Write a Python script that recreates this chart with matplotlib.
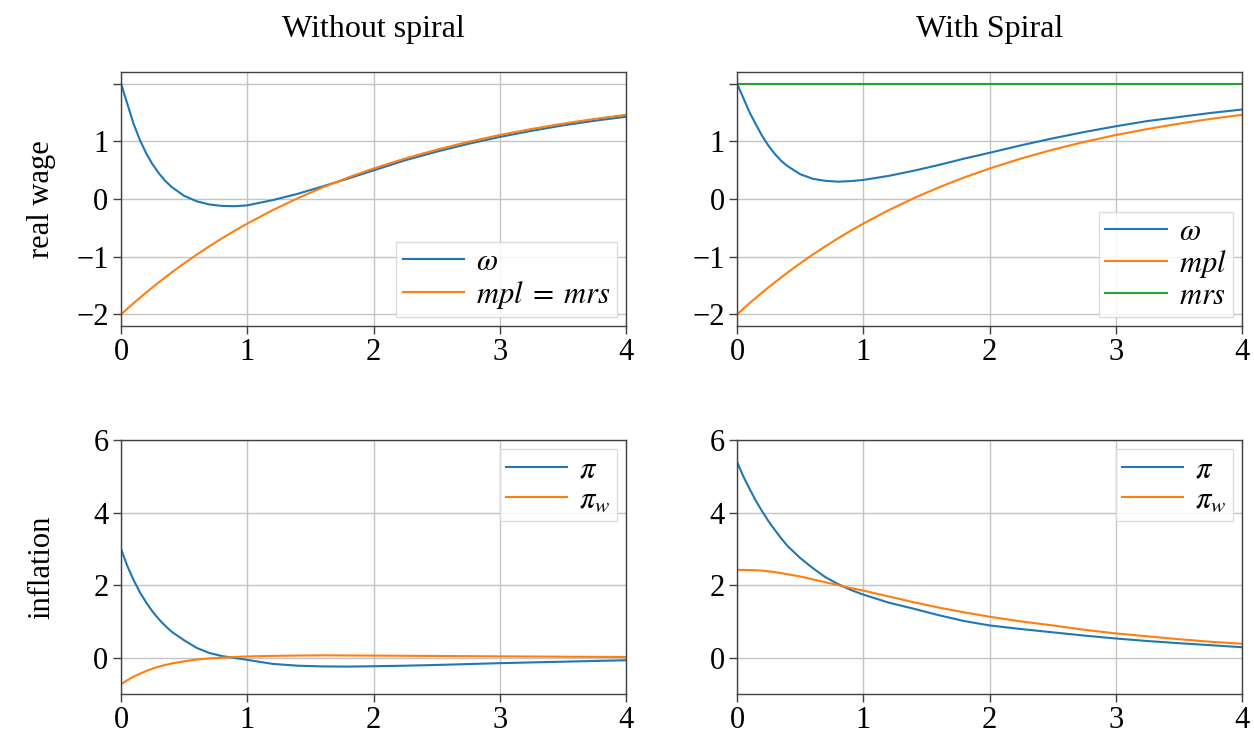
import matplotlib
matplotlib.use("Agg")
import matplotlib.pyplot as plt

plt.rcParams["font.family"] = ["Liberation Serif", "DejaVu Serif"]
plt.rcParams["mathtext.fontset"] = "stix"
plt.rcParams["font.size"] = 22
plt.rcParams["axes.unicode_minus"] = True

# time grid (denser near zero, where the curves bend most)
t = [0, 0.05, 0.1, 0.15, 0.2, 0.25, 0.3, 0.35, 0.4, 0.5, 0.6, 0.7, 0.8, 0.9,
     1.0, 1.2, 1.4, 1.6, 1.8, 2.0, 2.25, 2.5, 2.75, 3.0, 3.25, 3.5, 3.75, 4.0]

# real wage, without spiral
omega_ns = [2.0, 1.65, 1.30, 1.02, 0.79, 0.60, 0.445, 0.315, 0.21, 0.055,
            -0.04, -0.095, -0.12, -0.125, -0.11, -0.02, 0.09, 0.22, 0.355,
            0.495, 0.67, 0.82, 0.955, 1.075, 1.18, 1.275, 1.355, 1.425]
mpl = [-2.0, -1.901, -1.805, -1.711, -1.619, -1.530, -1.443, -1.358, -1.275,
       -1.115, -0.963, -0.819, -0.681, -0.550, -0.426, -0.195, 0.014, 0.203,
       0.374, 0.528, 0.701, 0.854, 0.989, 1.108, 1.212, 1.305, 1.387, 1.459]

# real wage, with spiral
omega_sp = [2.0, 1.75, 1.50, 1.29, 1.09, 0.92, 0.78, 0.66, 0.57, 0.43, 0.35,
            0.315, 0.30, 0.31, 0.33, 0.40, 0.49, 0.59, 0.70, 0.80, 0.93, 1.05,
            1.16, 1.26, 1.35, 1.42, 1.49, 1.55]
mrs_sp = [2.0] * len(t)

# inflation, without spiral
pi_ns = [3.0, 2.53, 2.14, 1.80, 1.52, 1.27, 1.06, 0.88, 0.72, 0.48, 0.27,
         0.13, 0.045, -0.005, -0.06, -0.17, -0.22, -0.24, -0.245, -0.235,
         -0.22, -0.20, -0.175, -0.15, -0.13, -0.11, -0.09, -0.07]
piw_ns = [-0.73, -0.62, -0.52, -0.44, -0.365, -0.30, -0.245, -0.20, -0.16,
          -0.10, -0.05, -0.02, 0.0, 0.02, 0.035, 0.05, 0.06, 0.065, 0.062,
          0.058, 0.053, 0.048, 0.043, 0.038, 0.033, 0.028, 0.024, 0.02]

# inflation, with spiral
pi_sp = [5.4, 5.0, 4.65, 4.32, 4.03, 3.76, 3.52, 3.29, 3.08, 2.75, 2.47,
         2.22, 2.03, 1.87, 1.74, 1.52, 1.35, 1.17, 1.01, 0.89, 0.79, 0.70,
         0.61, 0.53, 0.46, 0.40, 0.345, 0.29]
piw_sp = [2.42, 2.42, 2.415, 2.41, 2.40, 2.38, 2.36, 2.33, 2.30, 2.24, 2.16,
          2.08, 2.0, 1.92, 1.85, 1.69, 1.53, 1.38, 1.25, 1.13, 1.0, 0.89,
          0.77, 0.67, 0.59, 0.51, 0.44, 0.385]

blue, orange, green = "#1f77b4", "#ff7f0e", "#2ca02c"

fig = plt.figure(figsize=(12.54, 7.42), dpi=100)
W, H = 1254, 742
boxes = {
    "tl": (121, 72, 626, 326),
    "tr": (737, 72, 1242, 326),
    "bl": (121, 440, 626, 694),
    "br": (737, 440, 1242, 694),
}
axes = {}
for k, (x0, y0, x1, y1) in boxes.items():
    axes[k] = fig.add_axes([x0 / W, 1 - y1 / H, (x1 - x0) / W, (y1 - y0) / H])

legend_kw = dict(fontsize=22, handlelength=2.0, handletextpad=0.4,
                 borderpad=0.2, labelspacing=0.05, borderaxespad=0.3,
                 fancybox=False, edgecolor="#d8d8d8", framealpha=0.85)


def style(ax):
    ax.set_xlim(0, 4)
    ax.set_xticks([0, 1, 2, 3, 4])
    ax.grid(True, color="#c4c4c4", linewidth=1.0)
    ax.set_axisbelow(True)
    for s in ax.spines.values():
        s.set_color("#404040")
        s.set_linewidth(1.0)
    ax.tick_params(axis="both", direction="out", length=6, width=1.0,
                   color="#404040", labelsize=22, pad=3)


lw = 1.5
ax = axes["tl"]
ax.plot(t, omega_ns, color=blue, lw=lw, label=r"$\omega$")
ax.plot(t, mpl, color=orange, lw=lw, label=r"$mpl\;=\;mrs$")
ax.set_title("Without spiral", fontsize=23, pad=25)
ax.set_ylabel("real wage", fontsize=22)

ax = axes["tr"]
ax.plot(t, omega_sp, color=blue, lw=lw, label=r"$\omega$")
ax.plot(t, mpl, color=orange, lw=lw, label=r"$mpl$")
ax.plot(t, mrs_sp, color=green, lw=lw, label=r"$mrs$")
ax.set_title("With Spiral", fontsize=23, pad=25)

for k in ("tl", "tr"):
    ax = axes[k]
    ax.set_ylim(-2.2, 2.2)
    ax.set_yticks([-2, -1, 0, 1, 2])
    ax.set_yticklabels(["\u22122", "\u22121", "0", "1", ""])
    style(ax)
    ax.legend(loc="lower right", **legend_kw)

ax = axes["bl"]
ax.plot(t, pi_ns, color=blue, lw=lw, label=r"$\pi$")
ax.plot(t, piw_ns, color=orange, lw=lw, label=r"$\pi_w$")
ax.set_ylabel("inflation", fontsize=22)

ax = axes["br"]
ax.plot(t, pi_sp, color=blue, lw=lw, label=r"$\pi$")
ax.plot(t, piw_sp, color=orange, lw=lw, label=r"$\pi_w$")

for k in ("bl", "br"):
    ax = axes[k]
    ax.set_ylim(-1, 6)
    ax.set_yticks([0, 2, 4, 6])
    style(ax)
    ax.legend(loc="upper right", **legend_kw)

axes["tl"].yaxis.set_label_coords(-0.128, 0.5)
axes["bl"].yaxis.set_label_coords(-0.128, 0.5)

fig.savefig("out.png", dpi=100)
